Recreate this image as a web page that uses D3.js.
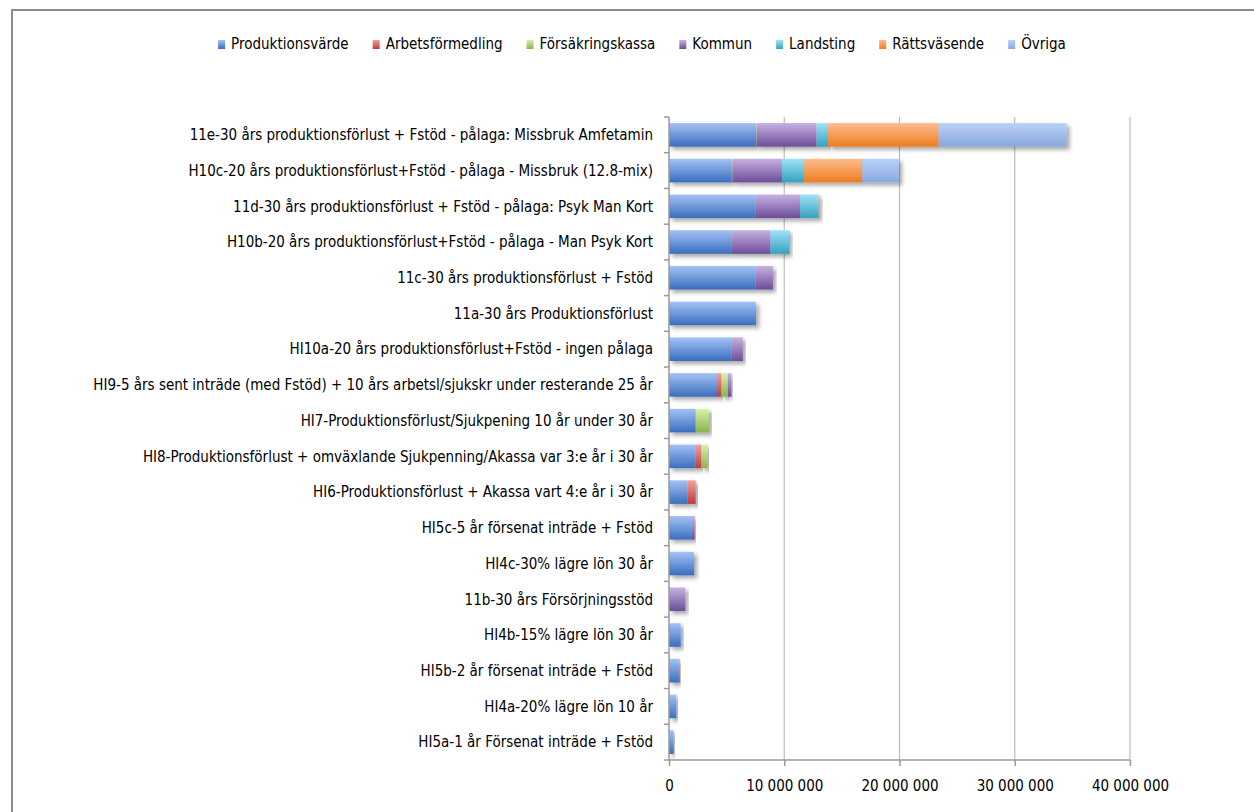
<html>
<script src="https://d3js.org/d3.v7.min.js"></script>
<body style="margin:0;background:#fff">
<style>
    body{ font-family: "DejaVu Sans Condensed", "Liberation Sans Narrow", sans-serif; }
    .lbl{ font-size:15px; fill:#000; }
</style>
<div id="chart"></div>
<script>
    // categories, top to bottom
    const categories = [
        "11e-30 års produktionsförlust + Fstöd - pålaga: Missbruk Amfetamin",
        "H10c-20 års produktionsförlust+Fstöd - pålaga - Missbruk (12.8-mix)",
        "11d-30 års produktionsförlust + Fstöd - pålaga: Psyk Man Kort",
        "H10b-20 års produktionsförlust+Fstöd - pålaga - Man Psyk Kort",
        "11c-30 års produktionsförlust + Fstöd",
        "11a-30 års Produktionsförlust",
        "HI10a-20 års produktionsförlust+Fstöd - ingen pålaga",
        "HI9-5 års sent inträde (med Fstöd) + 10 års arbetsl/sjukskr under resterande 25 år",
        "HI7-Produktionsförlust/Sjukpening 10 år under 30 år",
        "HI8-Produktionsförlust + omväxlande Sjukpenning/Akassa var 3:e år i 30 år",
        "HI6-Produktionsförlust + Akassa vart 4:e år i 30 år",
        "HI5c-5 år försenat inträde + Fstöd",
        "HI4c-30% lägre lön 30 år",
        "11b-30 års Försörjningsstöd",
        "HI4b-15% lägre lön 30 år",
        "HI5b-2 år försenat inträde + Fstöd",
        "HI4a-20% lägre lön 10 år",
        "HI5a-1 år Försenat inträde + Fstöd"
    ];
    const seriesNames = ["Produktionsvärde","Arbetsförmedling","Försäkringskassa","Kommun","Landsting","Rättsväsende","Övriga"];

    // values per series, same order as categories
    const produktionsvarde = [7550000,5450000,7520000,5410000,7520000,7550000,5410000,4160000,2320000,2320000,1620000,1940000,2170000,0,1020000,840000,640000,410000];
    const arbetsformedling = [0,0,0,0,0,0,0,400000,0,490000,700000,0,0,0,0,0,0,0];
    const forsakringskassa = [50000,50000,0,0,0,0,0,550000,1150000,550000,0,0,0,0,0,0,0,0];
    const kommun           = [5200000,4300000,3850000,3400000,1500000,0,1000000,320000,0,0,0,290000,0,1420000,0,90000,0,0];
    const landsting        = [1000000,1900000,1620000,1600000,0,0,0,0,0,0,0,0,0,0,0,0,0,0];
    const rattsvasende     = [9600000,5060000,50000,50000,0,0,0,0,0,0,0,0,0,0,0,0,0,0];
    const ovriga           = [11100000,3200000,0,0,0,0,0,0,0,0,0,0,0,0,0,0,0,0];
    const xTicks = [0,10000000,20000000,30000000,40000000];

    // gradient stops: light top, dark bottom
    const colorsTop = ["#a3c2f5","#f4a09e","#d9f1ab","#c6b2e2","#9fe4f8","#fdbd90","#b9d1f8"];
    const colorsBot = ["#3a6dbd","#bf3a3a","#8ab44c","#6c4c98","#35a0c0","#ee7c20","#88a8dc"];

    const table = categories.map((c,i) => ({
        cat: c,
        "Produktionsvärde": produktionsvarde[i],
        "Arbetsförmedling": arbetsformedling[i],
        "Försäkringskassa": forsakringskassa[i],
        "Kommun": kommun[i],
        "Landsting": landsting[i],
        "Rättsväsende": rattsvasende[i],
        "Övriga": ovriga[i]
    }));
    const stacked = d3.stack().keys(seriesNames)(table);

    const W = 1254, H = 812;
    const svg = d3.select("#chart").append("svg").attr("width", W).attr("height", H);

    const defs = svg.append("defs");
    seriesNames.forEach((s,i) => {
        let g = defs.append("linearGradient").attr("id","grad"+i)
            .attr("x1",0).attr("y1",0).attr("x2",0).attr("y2",1);
        g.append("stop").attr("offset","0%").attr("stop-color",colorsTop[i]);
        g.append("stop").attr("offset","100%").attr("stop-color",colorsBot[i]);
    });
    let f = defs.append("filter").attr("id","shadow").attr("x","-10%").attr("y","-30%").attr("width","130%").attr("height","180%");
    f.append("feDropShadow").attr("dx",3).attr("dy",3).attr("stdDeviation",2)
        .attr("flood-color","#000").attr("flood-opacity",0.35);

    // frame
    svg.append("path").attr("d","M12,812 V10 H1254").attr("fill","none")
        .attr("stroke","#8c8c8c").attr("stroke-width",2);

    const x = d3.scaleLinear().domain([0,40000000]).range([669,1130]);
    const y = d3.scaleBand().domain(categories).range([117,760]).paddingInner(0.34).paddingOuter(0.17);

    // gridlines
    svg.append("g").selectAll("line").data(xTicks.slice(1)).join("line")
        .attr("x1",d=>x(d)).attr("x2",d=>x(d)).attr("y1",117).attr("y2",760)
        .attr("stroke","#bdbdbd").attr("stroke-width",1.2);

    // bars
    svg.append("g").selectAll("g").data(stacked).join("g")
        .attr("fill",(d,i)=>`url(#grad${i})`)
        .selectAll("rect").data(d=>d.filter(p=>p[1]-p[0]>0)).join("rect")
        .attr("x",d=>x(d[0]))
        .attr("width",d=>x(d[1])-x(d[0]))
        .attr("y",d=>y(d.data.cat))
        .attr("height",y.bandwidth())
        .attr("filter","url(#shadow)");

    // x axis
    const loc = d3.formatLocale({decimal:",", thousands:" ", grouping:[3], currency:["",""]});
    const xAxis = d3.axisBottom(x).tickValues(xTicks).tickFormat(loc.format(",")).tickSize(6).tickPadding(14);
    const gx = svg.append("g").attr("transform","translate(0,760)").call(xAxis);
    gx.select(".domain").attr("stroke","#9a9a9a").attr("stroke-width",1.5).attr("d","M669,0H1130");
    gx.selectAll(".tick line").attr("stroke","#9a9a9a").attr("stroke-width",1.5);
    gx.selectAll("text").attr("font-family","DejaVu Sans Condensed, sans-serif").attr("font-size",15).attr("fill","#000");

    // y axis line + ticks between categories
    const gy = svg.append("g");
    gy.append("line").attr("x1",669).attr("x2",669).attr("y1",117).attr("y2",760)
        .attr("stroke","#9a9a9a").attr("stroke-width",1.5);
    gy.selectAll(".yt").data(d3.range(categories.length+1)).join("line")
        .attr("x1",664).attr("x2",669)
        .attr("y1",i=>117+i*(760-117)/categories.length)
        .attr("y2",i=>117+i*(760-117)/categories.length)
        .attr("stroke","#9a9a9a").attr("stroke-width",1.5);

    // category labels
    svg.append("g").selectAll("text").data(categories).join("text")
        .attr("class","lbl")
        .attr("x",653)
        .attr("y",d=>y(d)+y.bandwidth()/2)
        .attr("dy","0.35em")
        .attr("text-anchor","end")
        .text(d=>d);

    // legend
    const leg = svg.append("g");
    let lx = 0;
    seriesNames.forEach((s,i) => {
        let it = leg.append("g");
        it.append("rect").attr("x",0).attr("y",-4).attr("width",7).attr("height",9)
            .attr("fill",`url(#grad${i})`);
        let t = it.append("text").attr("class","lbl").attr("x",13).attr("y",0).attr("dy","0.35em").text(s);
        let w = 13 + t.node().getComputedTextLength();
        it.attr("transform",`translate(${lx},44)`);
        lx += w + 24;
    });
    let totalW = lx - 24;
    leg.attr("transform",`translate(${642 - totalW/2},0)`);
</script>
</body>
</html>
